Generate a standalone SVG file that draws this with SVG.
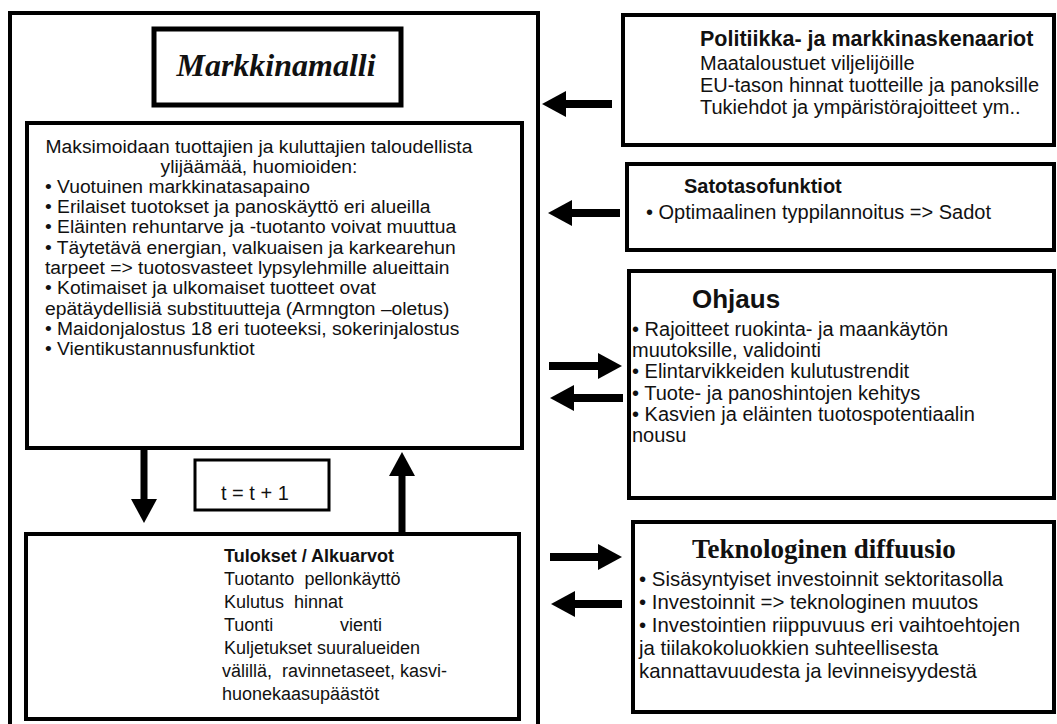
<svg xmlns="http://www.w3.org/2000/svg" width="1057" height="724" viewBox="0 0 1057 724">
<style>
.box{fill:#fff;stroke:#000;stroke-width:4}
.frame{fill:none;stroke:#000;stroke-width:4}
.t{font-family:"Liberation Sans",Arial,sans-serif;font-size:20px;fill:#111}
.m{font-size:18px}
.s{font-size:18px}
.b{font-weight:bold}
.c{text-anchor:middle}
.arr{stroke:#000;stroke-width:8;fill:none;marker-end:url(#ah)}
</style>
<defs>
<marker id="ah" markerUnits="userSpaceOnUse" markerWidth="24" markerHeight="26" viewBox="0 0 24 26" refX="2" refY="13" orient="auto">
<path d="M0,0 L24,13 L0,26 z" fill="#000"/>
</marker>
</defs>
<rect width="1057" height="724" fill="#fff"/>

<g id="markkinamalli-frame">
<rect class="frame" x="10" y="13" width="528" height="730"/>
</g>

<g id="title">
<rect class="box" x="154" y="29" width="247" height="76" style="stroke-width:5"/>
<text x="276" y="76" text-anchor="middle" style="font-family:'Liberation Serif','Times New Roman',serif;font-size:32px;font-weight:bold;font-style:italic;fill:#111">Markkinamalli</text>
</g>

<g id="main">
<rect class="box" x="27" y="123" width="495" height="325"/>
<g transform="translate(45,0) scale(1.07,1)">
<text class="t m c" x="200" y="153">Maksimoidaan tuottajien ja kuluttajien taloudellista</text>
<text class="t m c" x="200" y="173">ylijäämää, huomioiden:</text>
<text class="t m" x="0" y="193">• Vuotuinen markkinatasapaino</text>
<text class="t m" x="0" y="213">• Erilaiset tuotokset ja panoskäyttö eri alueilla</text>
<text class="t m" x="0" y="233">• Eläinten rehuntarve ja -tuotanto voivat muuttua</text>
<text class="t m" x="0" y="254">• Täytetävä energian, valkuaisen ja karkearehun</text>
<text class="t m" x="0" y="274">tarpeet =&gt; tuotosvasteet lypsylehmille alueittain</text>
<text class="t m" x="0" y="294">• Kotimaiset ja ulkomaiset tuotteet ovat</text>
<text class="t m" x="0" y="315">epätäydellisiä substituutteja (Armngton –oletus)</text>
<text class="t m" x="0" y="335">• Maidonjalostus 18 eri tuoteeksi, sokerinjalostus</text>
<text class="t m" x="0" y="355">• Vientikustannusfunktiot</text>
</g>
</g>

<g id="counter">
<rect class="box" x="195" y="460" width="134" height="50" style="stroke-width:3"/>
<text class="t" x="221" y="500">t = t + 1</text>
</g>

<g id="tulokset">
<rect class="box" x="26" y="534" width="493" height="185"/>
<text class="t s b" x="224" y="562">Tulokset / Alkuarvot</text>
<text class="t s" x="224" y="585" xml:space="preserve">Tuotanto  pellonkäyttö</text>
<text class="t s" x="224" y="608" xml:space="preserve">Kulutus  hinnat</text>
<text class="t s" x="224" y="631">Tuonti <tspan x="340">vienti</tspan></text>
<text class="t s" x="224" y="654">Kuljetukset suuralueiden</text>
<text class="t s" x="222" y="677" xml:space="preserve">välillä,  ravinnetaseet, kasvi-</text>
<text class="t s" x="222" y="700">huonekaasupäästöt</text>
</g>

<g id="politiikka">
<rect class="box" x="623" y="15" width="431" height="130"/>
<text class="t b" x="700" y="46" style="font-size:21.5px">Politiikka- ja markkinaskenaariot</text>
<text class="t" x="700" y="70">Maataloustuet viljelijöille</text>
<text class="t" x="700" y="92">EU-tason hinnat tuotteille ja panoksille</text>
<text class="t" x="700" y="114">Tukiehdot ja ympäristörajoitteet ym..</text>
</g>

<g id="satotaso">
<rect class="box" x="627" y="164" width="427" height="86"/>
<text class="t b" x="684" y="193">Satotasofunktiot</text>
<text class="t" x="646" y="219">• Optimaalinen typpilannoitus =&gt; Sadot</text>
</g>

<g id="ohjaus">
<rect class="box" x="629" y="271" width="425" height="227"/>
<text class="t b" x="692" y="308" style="font-size:26px">Ohjaus</text>
<text class="t" x="632" y="336">• Rajoitteet ruokinta- ja maankäytön</text>
<text class="t" x="632" y="357">muutoksille, validointi</text>
<text class="t" x="632" y="378">• Elintarvikkeiden kulutustrendit</text>
<text class="t" x="632" y="400">• Tuote- ja panoshintojen kehitys</text>
<text class="t" x="632" y="421">• Kasvien ja eläinten tuotospotentiaalin</text>
<text class="t" x="632" y="442">nousu</text>
</g>

<g id="teknologinen">
<rect class="box" x="633" y="522" width="421" height="190"/>
<text x="692" y="558" style="font-family:'Liberation Serif','Times New Roman',serif;font-size:27px;font-weight:bold;fill:#111">Teknologinen diffuusio</text>
<text class="t" x="639" y="586" style="font-size:20.4px">• Sisäsyntyiset investoinnit sektoritasolla</text>
<text class="t" x="639" y="609" style="font-size:20.4px">• Investoinnit =&gt; teknologinen muutos</text>
<text class="t" x="639" y="632" style="font-size:20.4px">• Investointien riippuvuus eri vaihtoehtojen</text>
<text class="t" x="639" y="655" style="font-size:20.4px">ja tiilakokoluokkien suhteellisesta</text>
<text class="t" x="639" y="678" style="font-size:20.4px">kannattavuudesta ja levinneisyydestä</text>
</g>

<g id="connectors">
<line class="arr" x1="612" y1="104" x2="564" y2="104"/>
<line class="arr" x1="620" y1="213" x2="570" y2="213"/>
<line class="arr" x1="549" y1="366" x2="600" y2="366"/>
<line class="arr" x1="623" y1="398" x2="572" y2="398"/>
<line class="arr" x1="550" y1="557" x2="600" y2="557"/>
<line class="arr" x1="622" y1="604" x2="573" y2="604"/>
<line class="arr" x1="144" y1="449" x2="144" y2="501" style="stroke-width:7"/>
<line class="arr" x1="402" y1="532" x2="402" y2="474" style="stroke-width:7"/>
</g>
</svg>
